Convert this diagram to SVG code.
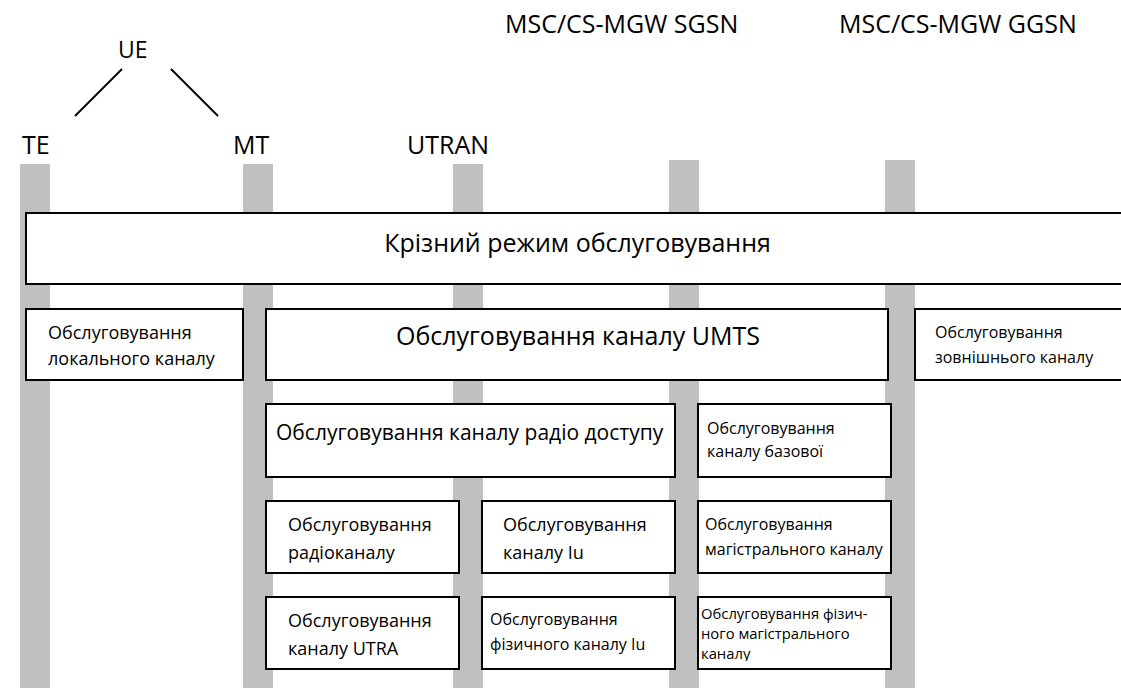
<svg xmlns="http://www.w3.org/2000/svg" width="1121" height="688" viewBox="0 0 1121 688">
<style>
text{font-family:"Open Sans","Noto Sans","Liberation Sans",sans-serif;fill:#000}
.bar{fill:#c0c0c0}
.box{fill:#fff;stroke:#000;stroke-width:2}
.h{font-size:25px}
.l25{font-size:25px}
.l21{font-size:21px}
.l18{font-size:18px}
.l16{font-size:16px}
.l15{font-size:14.8px}
.ln{stroke:#000;stroke-width:2;fill:none}
</style>
<defs>
<clipPath id="clipPB"><rect x="698" y="597" width="193" height="64"/></clipPath>
</defs>
<rect width="1121" height="688" fill="#fff"/>
<g id="bars">
<rect class="bar" x="20" y="164" width="30" height="524"/>
<rect class="bar" x="243" y="164" width="30" height="524"/>
<rect class="bar" x="453" y="164" width="30" height="524"/>
<rect class="bar" x="669" y="160" width="30" height="528"/>
<rect class="bar" x="885" y="160" width="30" height="528"/>
</g>
<g id="labels">
<text class="h" x="118" y="58" style="font-size:23px">UE</text>
<text class="h" x="22" y="154">TE</text>
<text class="h" x="233" y="154">MT</text>
<text class="h" x="407" y="154">UTRAN</text>
<text class="h" x="505" y="33">MSC/CS-MGW SGSN</text>
<text class="h" x="839" y="33">MSC/CS-MGW GGSN</text>
</g>
<g id="connectors">
<line class="ln" x1="122" y1="69" x2="75" y2="116"/>
<line class="ln" x1="171" y1="69" x2="218" y2="116"/>
</g>
<g id="end-to-end">
<rect class="box" x="26" y="213" width="1100" height="71"/>
<text class="l25" x="577.5" y="252" text-anchor="middle">Крізний режим обслуговування</text>
</g>
<g id="local">
<rect class="box" x="26" y="309" width="217" height="71"/>
<text class="l18" x="48" y="339">Обслуговування</text>
<text class="l18" x="48" y="365">локального каналу</text>
</g>
<g id="umts">
<rect class="box" x="266" y="309" width="622" height="71"/>
<text class="l25" x="578" y="345" text-anchor="middle">Обслуговування каналу UMTS</text>
</g>
<g id="external">
<rect class="box" x="915" y="309" width="215" height="71"/>
<text class="l16" x="935" y="338">Обслуговування</text>
<text class="l16" x="935" y="363">зовнішнього каналу</text>
</g>
<g id="radio-access">
<rect class="box" x="266" y="404" width="409" height="73"/>
<text class="l21" x="276" y="440">Обслуговування каналу радіо доступу</text>
</g>
<g id="core">
<rect class="box" x="698" y="404" width="193" height="73"/>
<text class="l16" x="707" y="434">Обслуговування</text>
<text class="l16" x="707" y="457">каналу базової</text>
</g>
<g id="radio">
<rect class="box" x="266" y="501" width="193" height="72"/>
<text class="l18" x="288" y="531">Обслуговування</text>
<text class="l18" x="288" y="559">радіоканалу</text>
</g>
<g id="iu">
<rect class="box" x="482" y="501" width="193" height="72"/>
<text class="l18" x="503" y="531">Обслуговування</text>
<text class="l18" x="503" y="559">каналу Iu</text>
</g>
<g id="backbone">
<rect class="box" x="698" y="501" width="193" height="72"/>
<text class="l16" x="705" y="530">Обслуговування</text>
<text class="l16" x="705" y="555">магістрального каналу</text>
</g>
<g id="utra">
<rect class="box" x="266" y="597" width="193" height="72"/>
<text class="l18" x="288" y="627">Обслуговування</text>
<text class="l18" x="288" y="655">каналу UTRA</text>
</g>
<g id="phys-iu">
<rect class="box" x="482" y="597" width="193" height="72"/>
<text class="l16" x="490" y="625">Обслуговування</text>
<text class="l16" x="490" y="650">фізичного каналу Iu</text>
</g>
<g id="phys-backbone">
<rect class="box" x="698" y="597" width="193" height="72"/>
<g clip-path="url(#clipPB)">
<text class="l15" x="701" y="619">Обслуговування фізич-</text>
<text class="l15" x="701" y="639">ного магістрального</text>
<text class="l15" x="701" y="659">каналу</text>
</g>
</g>
</svg>
